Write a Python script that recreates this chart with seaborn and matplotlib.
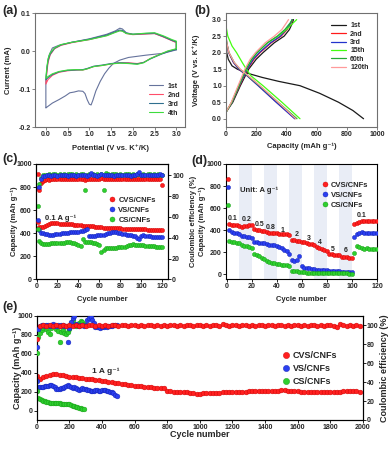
import matplotlib
matplotlib.use("Agg")
import matplotlib.pyplot as plt
from matplotlib.lines import Line2D
import seaborn as sns

# ---------------- (a) cyclic voltammetry ----------------
cv1_v = [3.0, 2.7, 2.3, 1.9, 1.7, 1.55, 1.45, 1.35, 1.25, 1.15,
         1.08, 1.04, 1.0, 0.95, 0.9, 0.85, 0.75, 0.65, 0.55, 0.45,
         0.3, 0.15, 0.02, 0.0, 0.0, 0.03, 0.07, 0.15, 0.3, 0.6,
         1.0, 1.4, 1.6, 1.7, 1.76, 1.85, 2.0, 2.3, 2.5, 2.7,
         2.9, 3.0, 3.0]
cv1_i = [0.003, -0.006, -0.011, -0.017, -0.024, -0.033, -0.045, -0.06, -0.08, -0.105,
         -0.13, -0.142, -0.14, -0.128, -0.112, -0.106, -0.105, -0.108, -0.11, -0.118,
         -0.128, -0.137, -0.148, -0.15, -0.08, -0.04, -0.012, 0.008, 0.015, 0.023,
         0.032, 0.044, 0.053, 0.06, 0.058, 0.048, 0.044, 0.045, 0.046, 0.038,
         0.028, 0.023, 0.003]
cv_v = [3.0, 2.8, 2.6, 2.4, 2.25, 2.1, 1.9, 1.7, 1.5, 1.3,
        1.1, 0.95, 0.85, 0.7, 0.5, 0.3, 0.15, 0.05, 0.0,
        0.0, 0.02, 0.05, 0.1, 0.2, 0.35, 0.6, 1.0, 1.4, 1.6,
        1.7, 1.76, 1.85, 2.0, 2.3, 2.5, 2.7, 2.9, 3.0, 3.0]
cv2_i = [0.005, -0.001, -0.01, -0.02, -0.03, -0.033, -0.031, -0.031, -0.034, -0.038,
         -0.041, -0.047, -0.05, -0.05, -0.052, -0.056, -0.064, -0.075, -0.087,
         -0.087, -0.06, -0.03, -0.01, 0.006, 0.015, 0.022, 0.03, 0.041, 0.05,
         0.054, 0.053, 0.046, 0.043, 0.045, 0.046, 0.037, 0.027, 0.022, 0.005]
cv3_i = [0.004, -0.002, -0.011, -0.021, -0.03, -0.034, -0.032, -0.031, -0.033, -0.037,
         -0.04, -0.046, -0.049, -0.05, -0.051, -0.055, -0.062, -0.07, -0.076,
         -0.076, -0.05, -0.025, -0.008, 0.007, 0.016, 0.023, 0.031, 0.042, 0.051,
         0.055, 0.054, 0.047, 0.044, 0.046, 0.047, 0.038, 0.028, 0.024, 0.004]
cv4_i = [0.006, 0.0, -0.01, -0.02, -0.031, -0.035, -0.033, -0.032, -0.034, -0.038,
         -0.041, -0.047, -0.05, -0.049, -0.05, -0.054, -0.06, -0.067, -0.072,
         -0.072, -0.045, -0.02, -0.005, 0.008, 0.017, 0.023, 0.03, 0.04, 0.049,
         0.053, 0.052, 0.046, 0.044, 0.047, 0.048, 0.04, 0.03, 0.026, 0.006]
cv_labels = ["1st", "2nd", "3rd", "4th"]
cv_colors = ["#66739c", "#ff4d6a", "#2f6f8f", "#3ddc3d"]

# ---------------- (b) charge / discharge profiles ----------------
gcd_labels = ["1st", "2nd", "3rd", "15th", "60th", "120th"]
gcd_colors = ["#1a1a1a", "#ff1a1a", "#2233cc", "#44ff11", "#22aa33", "#ff9a9a"]
dis_v_1 = [2.2, 2.0, 1.8, 1.6, 1.5, 1.38, 1.25, 1.13, 1.0, 0.77, 0.5, 0.25, 0.0]
dis_c_1 = [0, 5, 15, 40, 75, 140, 240, 350, 490, 620, 745, 840, 911]
dis_v = [2.5, 2.3, 2.0, 1.7, 1.5, 1.3, 1.0, 0.5, 0.0]
dis_c_2 = [0, 4, 18, 50, 85, 140, 215, 335, 458]
dis_c_3 = [0, 4, 18, 50, 85, 140, 213, 332, 455]
dis_v_15 = [2.8, 2.5, 2.2, 2.0, 1.7, 1.5, 1.3, 1.0, 0.5, 0.0]
dis_c_15 = [0, 12, 40, 70, 108, 135, 165, 245, 370, 490]
dis_c_60 = [0, 5, 20, 55, 92, 145, 222, 345, 470]
dis_c_120 = [0, 5, 20, 55, 95, 148, 225, 345, 462]
chg_v = [0.2, 0.5, 1.0, 1.5, 1.8, 2.0, 2.3, 2.5, 2.7, 2.9, 3.0]
chg_c_1 = [0, 45, 95, 150, 200, 245, 320, 385, 420, 440, 447]
chg_c_2 = [0, 40, 90, 142, 185, 225, 300, 365, 405, 430, 440]
chg_c_3 = [0, 40, 88, 140, 180, 220, 295, 360, 400, 428, 437]
chg_c_15 = [0, 38, 85, 132, 170, 205, 275, 345, 400, 445, 468]
chg_c_60 = [0, 38, 85, 132, 170, 205, 275, 340, 390, 425, 440]
chg_c_120 = [0, 35, 80, 125, 160, 195, 260, 320, 370, 400, 414]

# ---------------- (c) cycling at 0.1 A/g ----------------
cyc_c = [1] + list(range(2, 121, 2))
cap_c_cvs = [910,
             455, 450, 452, 462, 470, 478, 485, 490, 488, 486,
             483, 481, 480, 478, 477, 476, 476, 475, 474, 472,
             468, 466, 465, 463, 462, 460, 458, 457, 456, 455,
             450, 447, 448, 446, 445, 444, 443, 443, 442, 441,
             440, 439, 438, 437, 436, 436, 435, 434, 434, 433,
             433, 432, 431, 431, 430, 430, 429, 429, 428, 428]
cap_c_vs = [790,
            430, 405, 398, 392, 390, 388, 386, 388, 390, 392,
            395, 398, 400, 402, 404, 406, 408, 410, 412, 414,
            418, 422, 428, 435, 375, 372, 375, 378, 380, 382,
            385, 388, 392, 398, 405, 410, 412, 408, 402, 398,
            394, 390, 388, 385, 382, 378, 372, 360, 350, 372,
            380, 378, 375, 372, 370, 370, 368, 368, 367, 366]
cap_c_cs = [640,
            330, 312, 308, 306, 308, 310, 312, 314, 315, 316,
            318, 318, 319, 320, 320, 320, 318, 315, 305, 295,
            285, 350, 325, 322, 322, 320, 318, 315, 310, 300,
            235, 258, 268, 270, 272, 272, 273, 275, 276, 278,
            280, 283, 288, 295, 300, 302, 300, 298, 296, 298,
            295, 292, 290, 290, 288, 285, 282, 280, 278, 276]
ce_c_cvs = [55,
            86, 93, 95, 96, 96.5, 96, 96.8, 96.2, 96.5, 96.9,
            96.3, 96.6, 97, 96.4, 96.7, 96.2, 96.8, 96.5, 96.3, 96.9,
            96.4, 96.6, 95.8, 96.5, 96.8, 96.2, 96.7, 96.4, 96.9, 96.3,
            97.2, 96.5, 96.8, 97, 96.6, 96.4, 96.9, 96.5, 96.2, 96.7,
            96.4, 96.8, 96.3, 96.6, 96.9, 96.4, 96.7, 96.2, 96.6, 96.9,
            96.3, 96.5, 96.8, 96.4, 96.6, 96.2, 96.7, 96.5, 96.3, 91]
ce_c_vs = [57,
           89, 97, 99, 99.5, 100, 100.3, 99.8, 100.2, 100.5, 99.9,
           100.3, 100.6, 100.1, 100.4, 99.8, 100.2, 100.7, 100.3, 99.9, 100.4,
           100.1, 100.5, 100.2, 99.6, 100.4, 102, 100.3, 100.1, 99.8, 100.2,
           101.5, 100.6, 100.3, 100.1, 100.5, 100.2, 99.9, 100.4, 100.1, 100.3,
           100.6, 100.2, 100.4, 100.1, 99.8, 100.3, 100.5, 101, 103, 100.4,
           100.2, 100.6, 100.1, 100.3, 100.5, 100.2, 100.4, 100.8, 101.2, 100.5]
ce_c_cs = [48,
           92, 98, 100, 100.5, 100.8, 101, 100.6, 101.2, 100.9, 100.7,
           101, 100.8, 101.3, 100.6, 101, 100.9, 101.2, 100.7, 101, 100.8,
           100.9, 101, 86, 100.7, 101.2, 100.9, 101, 100.8, 101.1, 100.6,
           101.5, 86, 102.5, 101.2, 100.8, 101, 100.9, 101.1, 100.8, 101,
           100.7, 101, 100.9, 101.2, 100.8, 101, 100.6, 100.9, 101.1, 100.8,
           101, 100.7, 100.9, 101.1, 100.8, 101, 100.6, 100.9, 100.7, 100.8]

# ---------------- (d) rate capability ----------------
cyc_d = [1] + list(range(2, 121, 2))
rate_bands = [(10, 20), (30, 40), (50, 60), (70, 80), (90, 100)]
rate_text = ["0.1", "0.2", "0.5", "0.8", "1", "2", "3", "4", "5", "6", "0.1"]
rate_text_x = [5, 16, 26, 35, 44.5, 55.6, 65.7, 74.7, 84.7, 94.8, 108]
rate_text_y = [506, 500, 452, 427, 397, 355, 324, 288, 227, 212, 530]
cap_d_cvs = [866,
             455, 450, 447, 443, 440, 432, 436, 440, 444, 445,
             405, 400, 397, 394, 390, 380, 377, 375, 373, 372,
             368, 365, 362, 360, 352, 312, 308, 303, 298, 292,
             288, 282, 277, 272, 266, 250, 240, 228, 215, 205,
             180, 178, 176, 175, 172, 158, 155, 152, 150, 148,
             455, 468, 476, 480, 482, 484, 484, 483, 482, 481]
cap_d_vs = [787,
            400, 385, 375, 370, 365, 350, 345, 340, 335, 328,
            292, 288, 285, 283, 280, 272, 268, 265, 262, 258,
            245, 235, 220, 205, 185, 125, 122, 130, 160, 70,
            58, 55, 52, 50, 48, 40, 38, 36, 35, 34,
            30, 28, 27, 26, 25, 20, 19, 18, 17, 16,
            340, 360, 372, 378, 376, 374, 372, 371, 370, 370]
cap_d_cs = [625,
            300, 292, 287, 283, 280, 265, 258, 252, 245, 240,
            185, 172, 160, 150, 140, 115, 108, 102, 97, 94,
            90, 86, 82, 80, 77, 32, 28, 25, 22, 20,
            15, 14, 13, 12, 12, 10, 10, 9, 9, 8,
            8, 7, 7, 6, 6, 5, 5, 5, 4, 4,
            190, 255, 245, 235, 232, 235, 230, 232, 230, 228]

# ---------------- (e) long cycling at 1 A/g ----------------
cyc_e_cvs = [1] + list(range(20, 2000, 20))
cap_e_cvs = [370, 335, 350, 368, 380, 390, 388, 380, 372, 365,
             360, 355, 352, 348, 342, 338, 335, 330, 325, 320,
             315, 310, 305, 300, 296, 290, 285, 278, 272, 268,
             262, 258, 256, 252, 250, 246, 242, 240, 238, 235,
             210, 205, 200, 198, 196, 195, 193, 190, 185, 170,
             178, 182, 185, 186, 188, 188, 190, 192, 193, 194,
             195, 197, 198, 199, 200, 202, 203, 203, 204, 205,
             206, 207, 208, 210, 212, 214, 218, 212, 208, 205,
             203, 200, 198, 196, 195, 192, 195, 197, 198, 200,
             200, 199, 200, 201, 202, 203, 204, 205, 206, 200]
ce_e_cvs = [86, 99.5, 100.2, 99.8, 100.1, 99.6, 100.3, 99.9, 100.0, 99.7,
            100.2, 99.8, 100.4, 99.9, 100.1, 99.7, 100.3, 100.0, 99.8, 100.2,
            99.9, 100.3, 99.7, 100.1, 100.4, 99.8, 100.0, 100.2, 99.6, 100.1,
            100.3, 99.9, 100.2, 99.7, 100.0, 100.4, 99.8, 100.1, 99.9, 100.3,
            99.7, 100.0, 100.2, 99.8, 100.4, 99.9, 100.1, 100.3, 99.6, 100.0,
            100.2, 99.9, 100.3, 99.8, 100.1, 100.0, 99.7, 101.3, 100.2, 99.9,
            100.1, 100.3, 99.8, 100.0, 100.2, 99.7, 100.4, 99.9, 100.1, 100.0,
            99.8, 100.2, 100.0, 99.7, 100.3, 100.1, 99.9, 100.2, 99.8, 100.0,
            100.3, 99.9, 100.1, 99.7, 100.2, 100.0, 99.8, 100.3, 99.9, 100.1,
            100.0, 99.8, 98.2, 101.5, 100.2, 99.9, 100.1, 99.8, 100.0, 99.6]
cyc_e_vs = [1] + list(range(10, 500, 10))
cap_e_vs = [315, 250, 248, 250, 252, 255, 258, 262, 268, 265,
            258, 245, 232, 225, 228, 235, 240, 250, 262, 268,
            262, 250, 240, 248, 235, 228, 222, 230, 238, 232,
            225, 220, 215, 208, 202, 210, 218, 215, 212, 210,
            215, 218, 214, 210, 205, 200, 195, 185, 165, 150]
ce_e_vs = [77, 96, 99, 100.5, 100, 99.5, 100.8, 100.2, 99.6, 100.4,
           101.5, 100.2, 99.8, 100.5, 99.9, 100.6, 100.1, 99.4, 99.0, 83,
           97, 104, 108, 110, 102, 100.5, 99.8, 100.6, 100.2, 99.6,
           100.4, 106, 108, 109, 106, 103, 98.5, 98, 98.3, 97.8,
           98, 98.4, 99, 98.6, 99.2, 99.5, 99.1, 100, 100.6, 101]
cyc_e_cs = [1] + list(range(10, 300, 10))
cap_e_cs = [210, 130, 118, 110, 103, 98, 92, 88, 85, 82,
            80, 78, 77, 76, 75, 74, 72, 70, 68, 72,
            65, 58, 52, 48, 42, 36, 30, 25, 20, 15]
ce_e_cs = [71, 88, 92, 95, 97, 99, 96, 93, 91, 97,
           100, 99, 96, 94, 82, 93, 95, 92, 91, 93,
           96, 103, 106, 102, 99, 101, 103, 105, 104, 102]

series_names = ["CVS/CNFs", "VS/CNFs", "CS/CNFs"]
series_colors = ["#ff2020", "#2b3ff0", "#2fcf2f"]
series_edges = ["#cc0000", "#1020b0", "#139a13"]

# ---------------- style ----------------
sns.set_style("ticks")
plt.rcParams['font.family'] = ['Liberation Sans', 'DejaVu Sans']
plt.rcParams['font.weight'] = 'bold'
plt.rcParams['axes.labelweight'] = 'bold'

TICK = 5
LAB = 5.5

fig = plt.figure(figsize=(3.91, 4.51), dpi=100)
W, H = 391.0, 451.0


def axes_px(l, r, t, b):
    return fig.add_axes([l / W, 1 - b / H, (r - l) / W, (b - t) / H])


def style(ax, color="black", size=TICK, pad=1):
    for s in ax.spines.values():
        s.set_color(color)
        s.set_linewidth(0.8)
    ax.tick_params(direction="out", length=2, width=0.6, labelsize=size, pad=pad,
                   color=color)
    for lab in ax.get_xticklabels() + ax.get_yticklabels():
        lab.set_fontweight("bold")


def dots(ax, x, y, k, s=9, z=3):
    sns.scatterplot(x=x, y=y, ax=ax, color=series_colors[k], s=s,
                    edgecolor=series_edges[k], linewidth=0.3, legend=False, zorder=z)


def dot_legend(ax, x, y, fs, ms, spacing):
    handles = [Line2D([], [], ls="", marker="o", color=series_colors[k],
                      markeredgecolor=series_edges[k], markeredgewidth=0.3, markersize=ms)
               for k in range(3)]
    ax.legend(handles, series_names, loc="upper left", bbox_to_anchor=(x, y),
              frameon=False, handlelength=0.6, handletextpad=0.5,
              labelspacing=spacing, borderpad=0, borderaxespad=0,
              prop={"weight": "bold", "size": fs})


# ---------------- (a) ----------------
axa = axes_px(35, 185, 13, 127)
cv_sets = [(cv1_v, cv1_i), (cv_v, cv2_i), (cv_v, cv3_i), (cv_v, cv4_i)]
for k, (vv, ii) in enumerate(cv_sets):
    sns.lineplot(x=vv, y=ii, sort=False, estimator=None, ax=axa,
                 color=cv_colors[k], lw=0.8, label=cv_labels[k])
axa.set_xlim(-0.25, 3.2)
axa.set_ylim(-0.2, 0.1)
axa.set_xticks([0.0, 0.5, 1.0, 1.5, 2.0, 2.5, 3.0])
axa.set_xticklabels(["0.0", "0.5", "1.0", "1.5", "2.0", "2.5", "3.0"])
axa.set_yticks([-0.2, -0.1, 0.0, 0.1])
axa.set_yticklabels(["-0.2", "-0.1", "0.0", "0.1"])
axa.set_xlabel("Potential (V vs. K⁺/K)", fontsize=LAB)
axa.set_ylabel("Current (mA)", fontsize=LAB)
axa.xaxis.set_label_coords(0.5, -0.15)
axa.yaxis.set_label_coords(-0.155, 0.5)
axa.legend(loc="upper left", bbox_to_anchor=(0.74, 0.42), frameon=False,
           handlelength=2.0, handletextpad=0.6, labelspacing=0.3, borderpad=0,
           prop={"weight": "bold", "size": 5})
style(axa, "#707070")

# ---------------- (b) ----------------
axb = axes_px(226, 377, 13, 127)
dis_sets = [(dis_c_1, dis_v_1), (dis_c_2, dis_v), (dis_c_3, dis_v),
            (dis_c_15, dis_v_15), (dis_c_60, dis_v), (dis_c_120, dis_v)]
chg_sets = [chg_c_1, chg_c_2, chg_c_3, chg_c_15, chg_c_60, chg_c_120]
for k in range(6):
    cc, vv = dis_sets[k]
    sns.lineplot(x=cc, y=vv, sort=False, estimator=None, ax=axb,
                 color=gcd_colors[k], lw=0.9, label=gcd_labels[k])
    sns.lineplot(x=chg_sets[k], y=chg_v, sort=False, estimator=None, ax=axb,
                 color=gcd_colors[k], lw=0.9)
axb.set_xlim(0, 1000)
axb.set_ylim(-0.25, 3.2)
axb.set_xticks([0, 200, 400, 600, 800, 1000])
axb.set_yticks([0.0, 0.5, 1.0, 1.5, 2.0, 2.5, 3.0])
axb.set_yticklabels(["0.0", "0.5", "1.0", "1.5", "2.0", "2.5", "3.0"])
axb.set_xlabel("Capacity (mAh g⁻¹)", fontsize=LAB)
axb.set_ylabel("Voltage (V vs. K⁺/K)", fontsize=LAB)
axb.xaxis.set_label_coords(0.5, -0.14)
axb.yaxis.set_label_coords(-0.172, 0.5)
axb.legend(loc="upper left", bbox_to_anchor=(0.67, 0.95), frameon=False,
           handlelength=2.2, handletextpad=0.6, labelspacing=0.2, borderpad=0,
           prop={"weight": "bold", "size": 5})
style(axb, "#707070")

# ---------------- (c) ----------------
axc = axes_px(36, 168, 164, 279.3)
axc2 = axc.twinx()
dots(axc, cyc_c, cap_c_cvs, 0)
dots(axc, cyc_c, cap_c_vs, 1)
dots(axc, cyc_c, cap_c_cs, 2)
dots(axc2, cyc_c, ce_c_cvs, 0)
dots(axc2, cyc_c, ce_c_cs, 2)
dots(axc2, cyc_c, ce_c_vs, 1)
axc.set_xlim(-0.5, 125.5)
axc.set_ylim(0, 1000)
axc2.set_ylim(0, 111)
axc.set_xticks(range(0, 121, 20))
axc.set_yticks(range(0, 1001, 200))
axc2.set_yticks(range(0, 101, 20))
axc.set_xlabel("Cycle number", fontsize=LAB)
axc.set_ylabel("Capacity (mAh g⁻¹)", fontsize=LAB)
axc2.set_ylabel("Coulombic efficiency (%)", fontsize=LAB)
axc.xaxis.set_label_coords(0.5, -0.145)
axc.yaxis.set_label_coords(-0.14, 0.5)
axc2.yaxis.set_label_coords(1.165, 0.5)
axc.text(8, 530, "0.1 A g⁻¹", fontsize=5.5, fontweight="bold", va="center")
dot_legend(axc2, 0.56, 0.72, 5.5, 3.6, 0.35)
style(axc)
style(axc2)

# ---------------- (d) ----------------
axd = axes_px(226, 377, 164, 279)
for lo, hi in rate_bands:
    axd.axvspan(lo, hi, color="#e9edf6", lw=0, zorder=0)
dots(axd, cyc_d, cap_d_cvs, 0)
dots(axd, cyc_d, cap_d_vs, 1)
dots(axd, cyc_d, cap_d_cs, 2)
for tx, ty, tt in zip(rate_text_x, rate_text_y, rate_text):
    axd.text(tx, ty, tt, fontsize=5, fontweight="bold", ha="center", va="center")
axd.text(10.6, 764, "Unit: A g⁻¹", fontsize=5.5, fontweight="bold", va="center")
axd.set_xlim(-0.5, 120)
axd.set_ylim(-45, 1000)
axd.set_xticks(range(0, 121, 20))
axd.set_yticks(range(0, 1001, 200))
axd.set_xlabel("Cycle number", fontsize=LAB)
axd.set_ylabel("Capacity (mAh g⁻¹)", fontsize=LAB)
axd.xaxis.set_label_coords(0.5, -0.145)
axd.yaxis.set_label_coords(-0.132, 0.5)
dot_legend(axd, 0.64, 0.85, 5.5, 3.6, 0.35)
style(axd)

# ---------------- (e) ----------------
axe = axes_px(36.7, 363, 316, 420)
axe2 = axe.twinx()
dots(axe, cyc_e_cvs, cap_e_cvs, 0, s=12)
dots(axe, cyc_e_vs, cap_e_vs, 1, s=12)
dots(axe, cyc_e_cs, cap_e_cs, 2, s=12)
dots(axe2, cyc_e_cs, ce_e_cs, 2, s=12)
dots(axe2, cyc_e_vs, ce_e_vs, 1, s=12)
dots(axe2, cyc_e_cvs, ce_e_cvs, 0, s=12)
axe.text(340, 410, "1 A g⁻¹", fontsize=6, fontweight="bold", va="center")
axe.set_xlim(0, 2000)
axe.set_ylim(-100, 1000)
axe2.set_ylim(0, 110)
axe.set_xticks(range(0, 2001, 200))
axe.set_yticks(range(0, 1001, 200))
axe2.set_yticks(range(0, 101, 20))
axe.set_xlabel("Cycle number", fontsize=6.5)
axe.set_ylabel("Capacity (mAh g⁻¹)", fontsize=6.5)
axe2.set_ylabel("Coulombic efficiency (%)", fontsize=6.5)
axe.xaxis.set_label_coords(0.5, -0.095)
axe.yaxis.set_label_coords(-0.046, 0.5)
axe2.yaxis.set_label_coords(1.052, 0.5)
dot_legend(axe2, 0.755, 0.66, 6.5, 4.5, 0.45)
style(axe, pad=0.8)
style(axe2, pad=0.8)

# ---------------- panel letters ----------------
for lx, ly, lt in [(2, 11, "(a)"), (194, 11, "(b)"), (2, 159, "(c)"),
                   (191, 161, "(d)"), (2, 307, "(e)")]:
    fig.text(lx / W, 1 - ly / H, lt, fontsize=9, fontweight="bold", va="center")

fig.savefig("out.png", dpi=100)
